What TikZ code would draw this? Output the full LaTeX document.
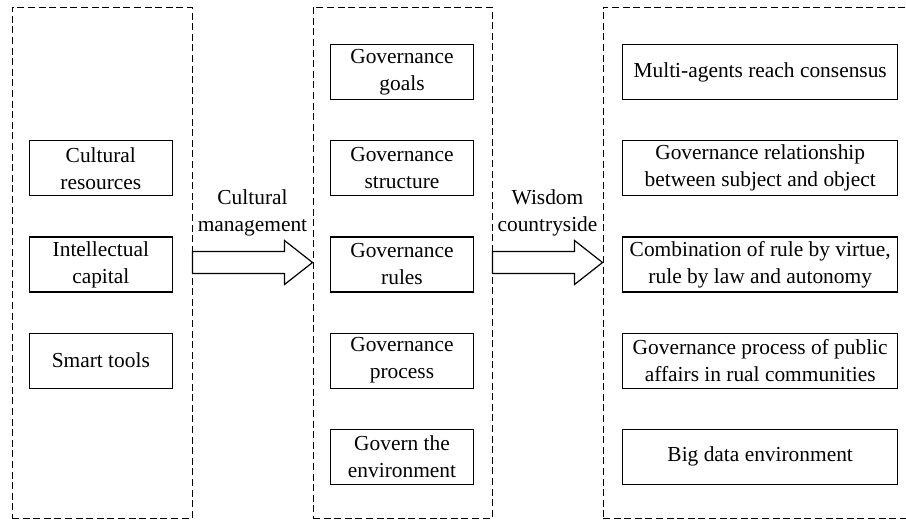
\documentclass[tikz,border=0pt]{standalone}
\usepackage{fontspec}
\setmainfont{Liberation Serif}
\usetikzlibrary{positioning}
\tikzset{
  every node/.style={
    font=\fontsize{10.7}{13.5}\selectfont
  },
  group/.style={
    shape=rectangle,
    draw=black,
    line width=0.5pt,
    dash pattern=on 3.5pt off 1.8pt,
    minimum height=255.5pt
  },
  factor/.style={
    shape=rectangle,
    draw=black,
    line width=0.6pt,
    minimum height=27.5pt,
    inner sep=2pt,
    align=center
  },
  narrow/.style={
    factor,
    minimum width=71.5pt
  },
  wide/.style={
    factor,
    minimum width=137.5pt
  },
  bigarrow/.style={
    draw=black,
    line width=0.6pt,
    line join=miter
  }
}

\begin{document}
\begin{tikzpicture}[x=0.5pt,y=-0.5pt,node distance=20pt]
    \useasboundingbox (0,0) rectangle (906,520);
    % dashed groups
    \node [group, minimum width=90pt] (lgrp) at (102,262.5) {};
    \node [group, minimum width=89.5pt] (mgrp) at (402.5,262.5) {};
    \node [group, minimum width=154.5pt] (rgrp) at (757.5,262.5) {};
    % governance
    \node [narrow] (goals) at (402,72) {Governance\\goals};
    \node [narrow, below=of goals] (structure) {Governance\\structure};
    \node [narrow, below=of structure] (rules) {Governance\\rules};
    \node [narrow, below=of rules] (process) {Governance\\process};
    \node [narrow, below=of process] (environment) {Govern the\\environment};
    % resources
    \node [narrow, left=78.5pt of structure] (resources) {Cultural\\resources};
    \node [narrow, left=78.5pt of rules] (capital) {Intellectual\\capital};
    \node [narrow, left=78.5pt of process] (tools) {Smart tools};
    % countryside
    \node [wide, right=74pt of goals] (consensus) {Multi-agents reach consensus};
    \node [wide, right=74pt of structure] (relationship) {Governance relationship\\between subject and object};
    \node [wide, right=74pt of rules] (combination) {Combination of rule by virtue,\\rule by law and autonomy};
    \node [wide, right=74pt of process] (affairs) {Governance process of public\\affairs in rual communities};
    \node [wide, right=74pt of environment] (bigdata) {Big data environment};
    % arrows
    \draw [bigarrow] ([yshift=5.5pt]lgrp.east) -- ([xshift=-14pt,yshift=5.5pt]mgrp.west)
      -- ([xshift=-14pt,yshift=11pt]mgrp.west) -- (mgrp.west)
      -- ([xshift=-14pt,yshift=-11pt]mgrp.west) -- ([xshift=-14pt,yshift=-5.5pt]mgrp.west)
      -- ([yshift=-5.5pt]lgrp.east) -- cycle;
    \draw [bigarrow] ([yshift=5.5pt]mgrp.east) -- ([xshift=-14pt,yshift=5.5pt]rgrp.west)
      -- ([xshift=-14pt,yshift=11pt]rgrp.west) -- (rgrp.west)
      -- ([xshift=-14pt,yshift=-11pt]rgrp.west) -- ([xshift=-14pt,yshift=-5.5pt]rgrp.west)
      -- ([yshift=-5.5pt]mgrp.east) -- cycle;
    \path (lgrp.east) -- (mgrp.west)
      node [midway, above=12pt, align=center, inner sep=1pt] (management) {Cultural\\management};
    \path (mgrp.east) -- (rgrp.west)
      node [midway, above=12pt, align=center, inner sep=1pt] (wisdom) {Wisdom\\countryside};
\end{tikzpicture}
\end{document}
